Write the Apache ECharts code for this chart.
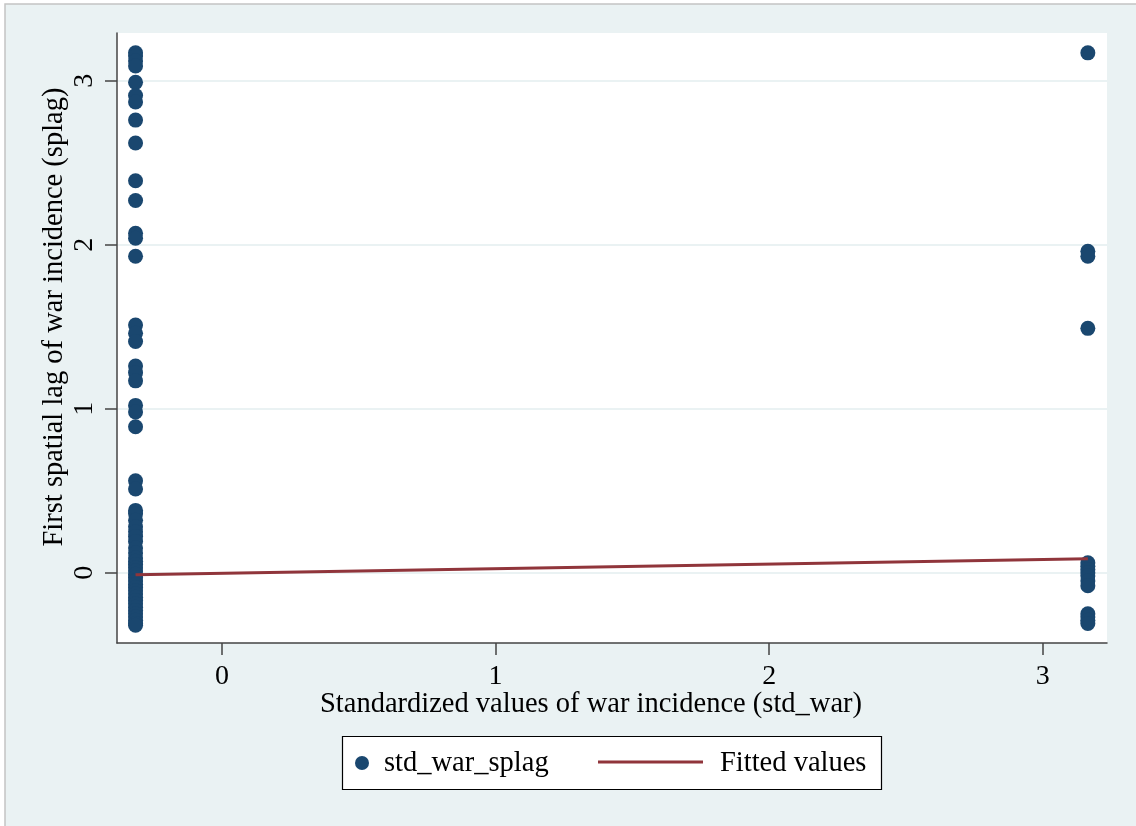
<!DOCTYPE html>
<html>
<head>
<meta charset="utf-8">
<script src="https://cdn.jsdelivr.net/npm/echarts@6/dist/echarts.min.js"></script>
<style>
  html, body { margin: 0; padding: 0; background: #ffffff; }
  #chart { width: 1136px; height: 826px; }
</style>
</head>
<body>
<div id="chart"></div>
<script>
// Standardized war incidence takes only two values
const stdWarNo = -0.316;
const stdWarYes = 3.165;

// First spatial lag (splag) for observations without war
const splagNoWar = [
  3.17, 3.15, 3.12, 3.09, 2.99, 2.91, 2.87, 2.76, 2.62, 2.39, 2.27, 2.07, 2.04, 1.93,
  1.51, 1.46, 1.41, 1.26, 1.22, 1.17, 1.02, 0.98, 0.89, 0.56, 0.51,
  0.38, 0.36, 0.32, 0.28, 0.25, 0.22, 0.19, 0.15, 0.12, 0.09, 0.07, 0.05, 0.03, 0.01,
  -0.01, -0.03, -0.05, -0.07, -0.09, -0.11, -0.13, -0.15, -0.17, -0.19, -0.21, -0.23,
  -0.25, -0.27, -0.29, -0.31, -0.32
];

// First spatial lag (splag) for observations with war
const splagWar = [
  3.17, 1.96, 1.93, 1.49, 0.06, 0.04, 0.02, 0.0, -0.02, -0.05, -0.08,
  -0.25, -0.27, -0.29, -0.31
];

// Linear fit evaluated at the two observed x values
const fittedX = [stdWarNo, stdWarYes];
const fittedY = [-0.012, 0.085];

const xTicks = [0, 1, 2, 3];
const yTicks = [0, 1, 2, 3];

const scatterData = splagNoWar.map(v => [stdWarNo, v])
  .concat(splagWar.map(v => [stdWarYes, v]));
const fittedData = fittedX.map((x, i) => [x, fittedY[i]]);

const FONT = "'Liberation Serif', 'DejaVu Serif', serif";
const NAVY = '#1a476f';
const MAROON = '#90353b';
const PANEL = '#eaf2f3';
const AXIS = '#444444';

const chart = echarts.init(document.getElementById('chart'), null, { renderer: 'canvas' });

chart.setOption({
  animation: false,
  backgroundColor: '#ffffff',
  textStyle: { fontFamily: FONT },
  grid: {
    left: 117, top: 33, width: 990, height: 610,
    show: true, backgroundColor: '#ffffff', borderWidth: 0,
    containLabel: false
  },
  xAxis: {
    type: 'value',
    position: 'bottom',
    min: -0.3838, max: 3.235,
    axisLine: { show: true, onZero: false, lineStyle: { color: AXIS, width: 1.5 } },
    axisTick: { show: true, length: 12, lineStyle: { color: AXIS, width: 1.5 }, customValues: xTicks },
    axisLabel: { customValues: xTicks, margin: 20, fontSize: 28, fontFamily: FONT, color: '#000' },
    splitLine: { show: false }
  },
  yAxis: {
    type: 'value',
    position: 'left',
    min: -0.4287, max: 3.291,
    axisLine: { show: true, onZero: false, lineStyle: { color: AXIS, width: 1.5 } },
    axisTick: { show: true, length: 12, lineStyle: { color: AXIS, width: 1.5 }, customValues: yTicks },
    axisLabel: { customValues: yTicks, margin: 18, rotate: 90, fontSize: 28, fontFamily: FONT, color: '#000' },
    splitLine: { show: true, lineStyle: { color: PANEL, width: 2 } }
  },
  series: [
    {
      name: 'std_war_splag',
      type: 'scatter',
      data: scatterData,
      symbol: 'circle',
      symbolSize: 15,
      itemStyle: { color: NAVY, opacity: 1 },
      z: 3
    },
    {
      name: 'Fitted values',
      type: 'line',
      data: fittedData,
      showSymbol: false,
      symbol: 'none',
      lineStyle: { color: MAROON, width: 3 },
      z: 4
    }
  ],
  graphic: [
    {
      type: 'rect', z: -10, silent: true,
      shape: { x: 5, y: 4, width: 1140, height: 830 },
      style: { fill: PANEL, stroke: '#c4c4c4', lineWidth: 1.5 }
    },
    {
      type: 'text', z: 10,
      x: 591, y: 705,
      style: {
        text: 'Standardized values of war incidence (std_war)',
        font: '28.5px ' + FONT, fill: '#000',
        align: 'center', verticalAlign: 'middle'
      }
    },
    {
      type: 'text', z: 10,
      x: 55, y: 317, rotation: Math.PI / 2,
      style: {
        text: 'First spatial lag of war incidence (splag)',
        font: '28.5px ' + FONT, fill: '#000',
        align: 'center', verticalAlign: 'middle'
      }
    },
    // legend box
    {
      type: 'rect', z: 10,
      shape: { x: 342.5, y: 736.5, width: 539, height: 53 },
      style: { fill: '#ffffff', stroke: '#000000', lineWidth: 1.2 }
    },
    {
      type: 'circle', z: 11,
      shape: { cx: 362, cy: 763, r: 7 },
      style: { fill: NAVY }
    },
    {
      type: 'text', z: 11,
      x: 384, y: 764,
      style: { text: 'std_war_splag', font: '28.5px ' + FONT, fill: '#000', align: 'left', verticalAlign: 'middle' }
    },
    {
      type: 'line', z: 11,
      shape: { x1: 598, y1: 762, x2: 703, y2: 762 },
      style: { stroke: MAROON, lineWidth: 3 }
    },
    {
      type: 'text', z: 11,
      x: 720, y: 764,
      style: { text: 'Fitted values', font: '28.5px ' + FONT, fill: '#000', align: 'left', verticalAlign: 'middle' }
    }
  ]
});
</script>
</body>
</html>
